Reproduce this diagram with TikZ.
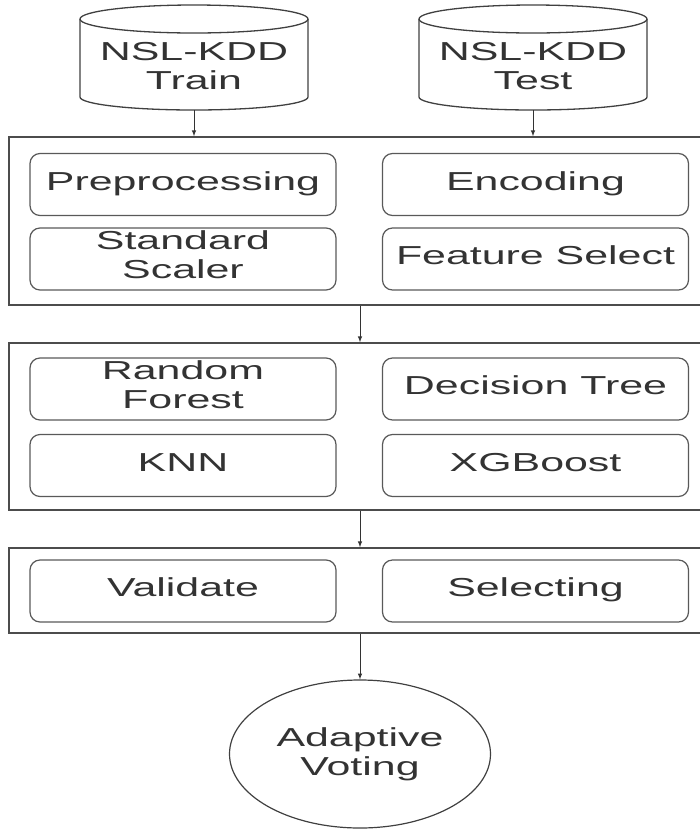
\documentclass[tikz,border=0pt]{standalone}
\usepackage{fontspec}
\setmainfont{Liberation Sans}[FakeStretch=1.65]

\usetikzlibrary{shapes.geometric}

\begin{document}
\begin{tikzpicture}[x=1pt, y=-1pt, >=latex,
    every node/.style={font=\fontsize{26}{29}\selectfont, text=black!80, align=center},
    db/.style={draw=black!75, line width=1.3pt},
    panel/.style={draw=black!70, line width=1.5pt, minimum width=696, inner sep=0},
    cell/.style={draw=black!65, line width=1.2pt, rounded corners=10pt,
      minimum width=306, minimum height=62, inner sep=0,
      execute at begin node=\strut, execute at end node=\strut}]
    \clip (0,0) rectangle (700,831);
    \foreach \px/\name/\txt in {194/train/{NSL-KDD\\Train}, 533/test/{NSL-KDD\\Test}} {
      \draw [db] (\px,19) ellipse [x radius=114, y radius=14];
      \draw [db] (\px-114,19) -- (\px-114,97)
        arc [start angle=180, end angle=0, x radius=114, y radius=13] -- (\px+114,19);
      \coordinate (\name) at (\px,110);
      \node (\name txt) at (\px,66) {\txt};
    }
    \node [panel, minimum height=168] (prep) at (357,221) {};
    \node [panel, minimum height=167] (models) at (357,426.5) {};
    \node [panel, minimum height=85] (check) at (357,590.5) {};
    \foreach \name/\txt/\px/\py in {pre/Preprocessing/183/184.5,
      enc/Encoding/535.5/184.5, scal/{Standard\\Scaler}/183/259,
      feat/{Feature Select}/535.5/259, rf/{Random\\Forest}/183/389,
      dt/{Decision Tree}/535.5/389, knn/KNN/183/465.5,
      xgb/XGBoost/535.5/465.5, val/Validate/183/591,
      sel/Selecting/535.5/591}
      \node [cell] (\name) at (\px,\py) {\txt};
    \node [draw=black!75, line width=1.2pt, ellipse, minimum width=261,
      minimum height=148, inner sep=0] (vote) at (360,754) {Adaptive\\Voting};
    \draw [->, line width=1pt, black!80] (train) -- (train |- prep.north);
    \draw [->, line width=1pt, black!80] (test) -- (test |- prep.north);
    \draw [->, line width=1pt, black!80] (vote |- prep.south) -- (vote |- models.north);
    \draw [->, line width=1pt, black!80] (vote |- models.south) -- (vote |- check.north);
    \draw [->, line width=1pt, black!80] (vote |- check.south) -- (vote.north);
  \end{tikzpicture}
\end{document}
